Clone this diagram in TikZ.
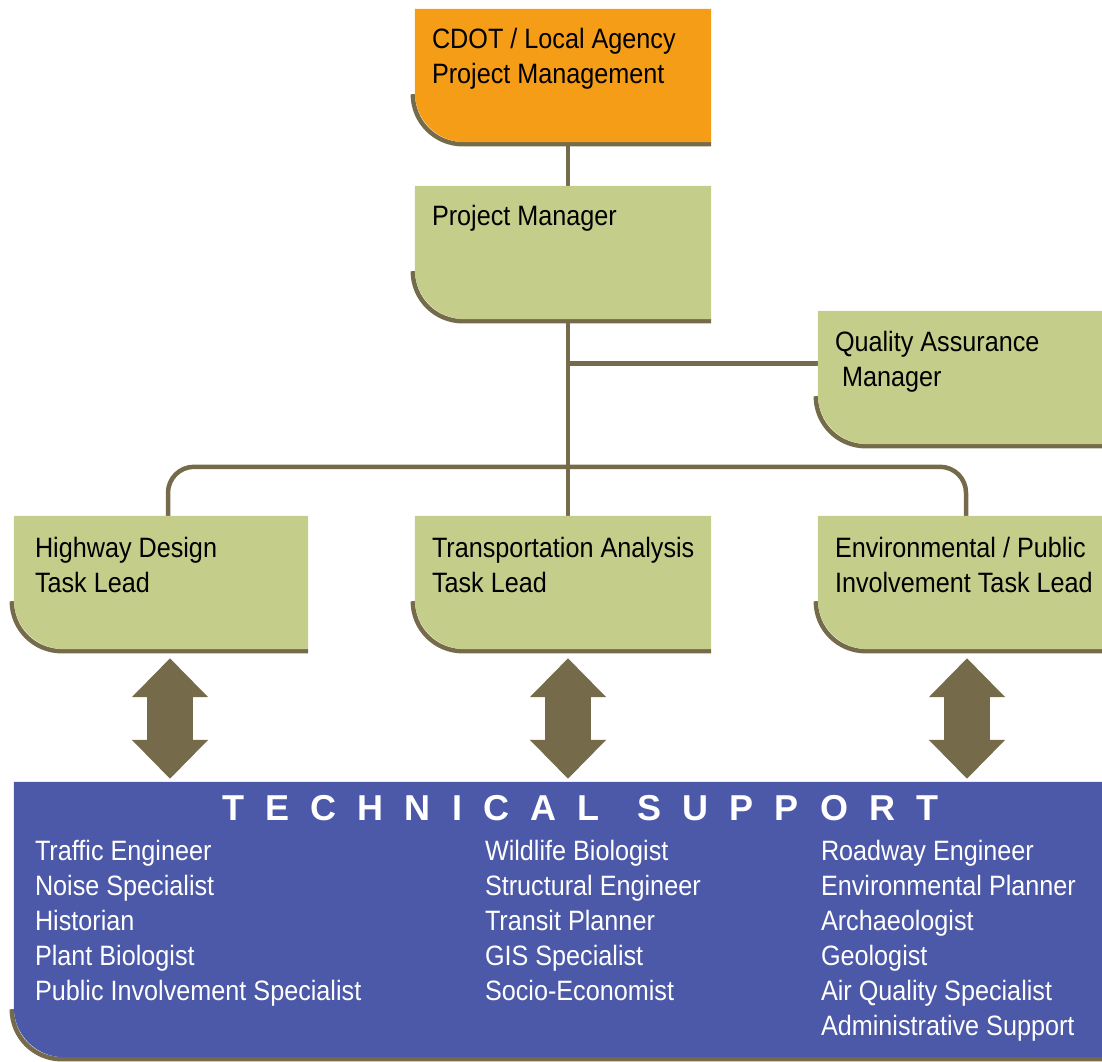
\documentclass[tikz,border=0pt]{standalone}
\usepackage{fontspec}
\setmainfont{Liberation Sans}[FakeStretch=0.9]
\newfontfamily\widefont{Liberation Sans}[LetterSpace=59]
\usetikzlibrary{arrows.meta, positioning}
\definecolor{cdotorange}{RGB}{245,157,22}
\definecolor{leadgreen}{RGB}{196,206,138}
\definecolor{supportblue}{RGB}{76,88,168}
\definecolor{linkbrown}{RGB}{117,107,74}
\tikzstyle{orgbox} = [rectangle, minimum width=296pt, minimum height=133pt, inner sep=0pt]
\tikzstyle{boxtext} = [anchor=base west, align=left, inner sep=0pt, font=\fontsize{28}{35}\selectfont]
\tikzstyle{listtext} = [boxtext, text=white]
\tikzstyle{link} = [draw=linkbrown, line width=4.5pt]
\tikzstyle{twoway} = [draw=linkbrown, line width=46pt, {Triangle[length=39pt,width=74pt]}-{Triangle[length=39pt,width=74pt]}]
\tikzstyle{shade} = [draw=linkbrown, line width=4.5pt]
% fill with one round corner, dark edge below
\newcommand{\cornerbox}[3]{
\draw[shade] ([xshift=-2pt,yshift=#3-2pt]#1.south west) arc (180:270:#3) -- ([yshift=-2pt]#1.south east);
\fill[#2] (#1.north west) -- (#1.north east) -- (#1.south east) -- ([xshift=#3]#1.south west) arc (270:180:#3) -- cycle;
}

\begin{document}
\begin{tikzpicture}[x=1pt, y=1pt, node distance=177pt]
\useasboundingbox (0,0) rectangle (1102,-1061);
\node (cdot) [orgbox] at (563,-75.5) {};
\node (pm) [orgbox, below of=cdot] {};
\node (qa) [orgbox, minimum width=284pt, below of=pm, xshift=397pt, yshift=52pt] {};
\node (trans) [orgbox, below of=pm, yshift=-153pt] {};
\node (hwy) [orgbox, minimum width=294pt, below of=pm, xshift=-402pt, yshift=-153pt] {};
\node (env) [orgbox, minimum width=284pt, below of=pm, xshift=397pt, yshift=-153pt] {};
\node (tech) [orgbox, minimum width=1088pt, minimum height=275pt, below of=trans, xshift=-5pt, yshift=-160pt] {};

\coordinate (spine) at ([xshift=5pt]pm.south);
\draw[link] ([xshift=5pt]cdot.south) -- ([xshift=5pt]pm.north);
\draw[link] (spine) -- ([xshift=5pt]trans.north);
\draw[link] ([yshift=14pt]qa.west) -- ([yshift=14pt]qa.west -| spine);
\draw[link, rounded corners=26pt] ([xshift=7pt]hwy.north) -- ++(0,49) -| ([xshift=6pt]env.north);

\cornerbox{cdot}{cdotorange}{50pt}
\cornerbox{pm}{leadgreen}{50pt}
\cornerbox{qa}{leadgreen}{50pt}
\cornerbox{hwy}{leadgreen}{50pt}
\cornerbox{trans}{leadgreen}{50pt}
\cornerbox{env}{leadgreen}{50pt}
\cornerbox{tech}{supportblue}{50pt}

% base = last line, so two-line texts sit 35pt lower
\node (cdottext) [boxtext] at ([xshift=17pt,yshift=-75pt]cdot.north west) {CDOT / Local Agency\\Project Management};
\node (pmtext) [boxtext] at ([xshift=17pt,yshift=-40pt]pm.north west) {Project Manager};
\node (qatext) [boxtext] at ([xshift=17pt,yshift=-76pt]qa.north west) {Quality Assurance\\\ Manager};
\node (hwytext) [boxtext] at ([xshift=21pt,yshift=-77pt]hwy.north west) {Highway Design\\Task Lead};
\node (transtext) [boxtext] at ([xshift=17pt,yshift=-77pt]trans.north west) {Transportation Analysis\\Task Lead};
\node (envtext) [boxtext] at ([xshift=17pt,yshift=-77pt]env.north west) {Environmental / Public\\Involvement Task Lead};

\coordinate (hwyfoot) at (hwy.south |- tech.north);
\coordinate (transfoot) at (trans.south |- tech.north);
\coordinate (envfoot) at (env.south |- tech.north);
\draw[twoway] ([xshift=9pt,yshift=-9pt]hwy.south) -- ([xshift=9pt,yshift=3pt]hwyfoot);
\draw[twoway] ([xshift=5pt,yshift=-9pt]trans.south) -- ([xshift=5pt,yshift=3pt]transfoot);
\draw[twoway] ([xshift=7pt,yshift=-9pt]env.south) -- ([xshift=7pt,yshift=3pt]envfoot);

\node (techtitle) [anchor=base west, inner sep=0pt, text=white, font=\widefont\bfseries\fontsize{36}{40}\selectfont] at ([xshift=208pt,yshift=-39pt]tech.north west) {TECHNICAL\hspace{6pt} SUPPORT};
\node (colone) [listtext] at ([xshift=21pt,yshift=-219pt]tech.north west) {Traffic Engineer\\Noise Specialist\\Historian\\Plant Biologist\\Public Involvement Specialist};
\node (coltwo) [listtext] at ([xshift=471pt,yshift=-219pt]tech.north west) {Wildlife Biologist\\Structural Engineer\\Transit Planner\\GIS Specialist\\Socio-Economist};
\node (colthree) [listtext] at ([xshift=807pt,yshift=-254pt]tech.north west) {Roadway Engineer\\Environmental Planner\\Archaeologist\\Geologist\\Air Quality Specialist\\Administrative Support};
\end{tikzpicture}
\end{document}
